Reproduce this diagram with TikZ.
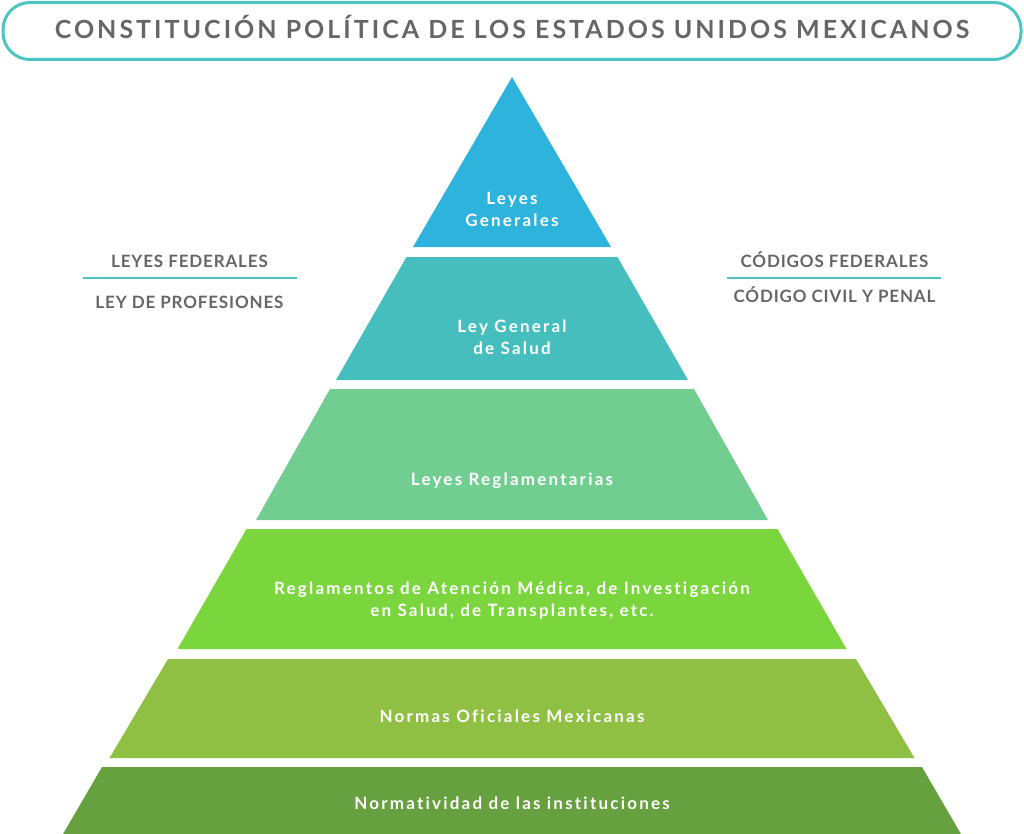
\documentclass[tikz,border=0pt]{standalone}
\usepackage{fontspec}
\setmainfont{Lato}
\newfontfamily\titlef[LetterSpace=12,Ligatures=NoCommon]{Lato}
\newfontfamily\sidef[LetterSpace=5,Ligatures=NoCommon]{Lato}
\newfontfamily\tierf[LetterSpace=13,Ligatures=NoCommon]{Lato}
\definecolor{teal1}{HTML}{4CC4C4}
\definecolor{gtext}{HTML}{666666}
\definecolor{c1}{HTML}{2DB3DC}
\definecolor{c2}{HTML}{47BEBE}
\definecolor{c3}{HTML}{72CD91}
\definecolor{c4}{HTML}{7AD63C}
\definecolor{c5}{HTML}{8FC043}
\definecolor{c6}{HTML}{66A03F}
\tikzset{
  tierlabel/.style={text=white, font=\tierf\bfseries\fontsize{17}{22}\selectfont, align=center, inner sep=0pt},
  sidelabel/.style={text=gtext, font=\sidef\bfseries\fontsize{17}{20}\selectfont, inner sep=0pt, anchor=base},
  sideline/.style={draw=teal1, line width=2.5pt},
}
\begin{document}
\begin{tikzpicture}[x=1pt,y=-1pt]
\useasboundingbox (0,0) rectangle (1024,834);
% title
\node[draw=teal1, line width=3pt, rounded corners=27pt, minimum width=1018pt, minimum height=57pt] (titlebox) at (512,31) {};
\node[text=gtext, font=\titlef\bfseries\fontsize{25}{28}\selectfont, anchor=base, inner sep=0pt] (title) at (512,38.5)
      {CONSTITUCIÓN POLÍTICA DE LOS ESTADOS UNIDOS MEXICANOS};
% tiers
\fill[c1] (512,77) -- (611,247) -- (413,247) -- cycle;
\fill[c2] (406.5,257) -- (617.5,257) -- (688,380) -- (336,380) -- cycle;
\fill[c3] (330,389) -- (694,389) -- (768,520) -- (256,520) -- cycle;
\fill[c4] (246.5,529) -- (777.5,529) -- (846.5,649) -- (177.5,649) -- cycle;
\fill[c5] (168,659) -- (856,659) -- (914.5,758) -- (109.5,758) -- cycle;
\fill[c6] (102,767) -- (922,767) -- (961,834) -- (63,834) -- cycle;
% tier labels
\node[tierlabel] (l1) at (512,209) {Leyes\\Generales};
\node[tierlabel] (l2) at (512,337) {Ley General\\de Salud};
\node[tierlabel] (l3) at (512,481) {Leyes Reglamentarias};
\node[tierlabel] (l4) at (512,601) {Reglamentos de Atención Médica, de Investigación\\en Salud, de Transplantes, etc.};
\node[tierlabel] (l5) at (512,716) {Normas Oficiales Mexicanas};
\node[tierlabel] (l6) at (512,803) {Normatividad de las instituciones};
% side labels
\node[sidelabel] (lf) at (189.5,267.5) {LEYES FEDERALES};
\node[sidelabel] (lp) at (189.5,308) {LEY DE PROFESIONES};
\coordinate (la) at (83,278);
\coordinate (lb) at (297,278);
\draw[sideline] (la) -- (lb);
\node[sidelabel] (cf) at (834.5,267.5) {CÓDIGOS FEDERALES};
\node[sidelabel] (cc) at (834.5,302.5) {CÓDIGO CIVIL Y PENAL};
\coordinate (ra) at (727,278);
\coordinate (rb) at (941,278);
\draw[sideline] (ra) -- (rb);
\end{tikzpicture}
\end{document}
